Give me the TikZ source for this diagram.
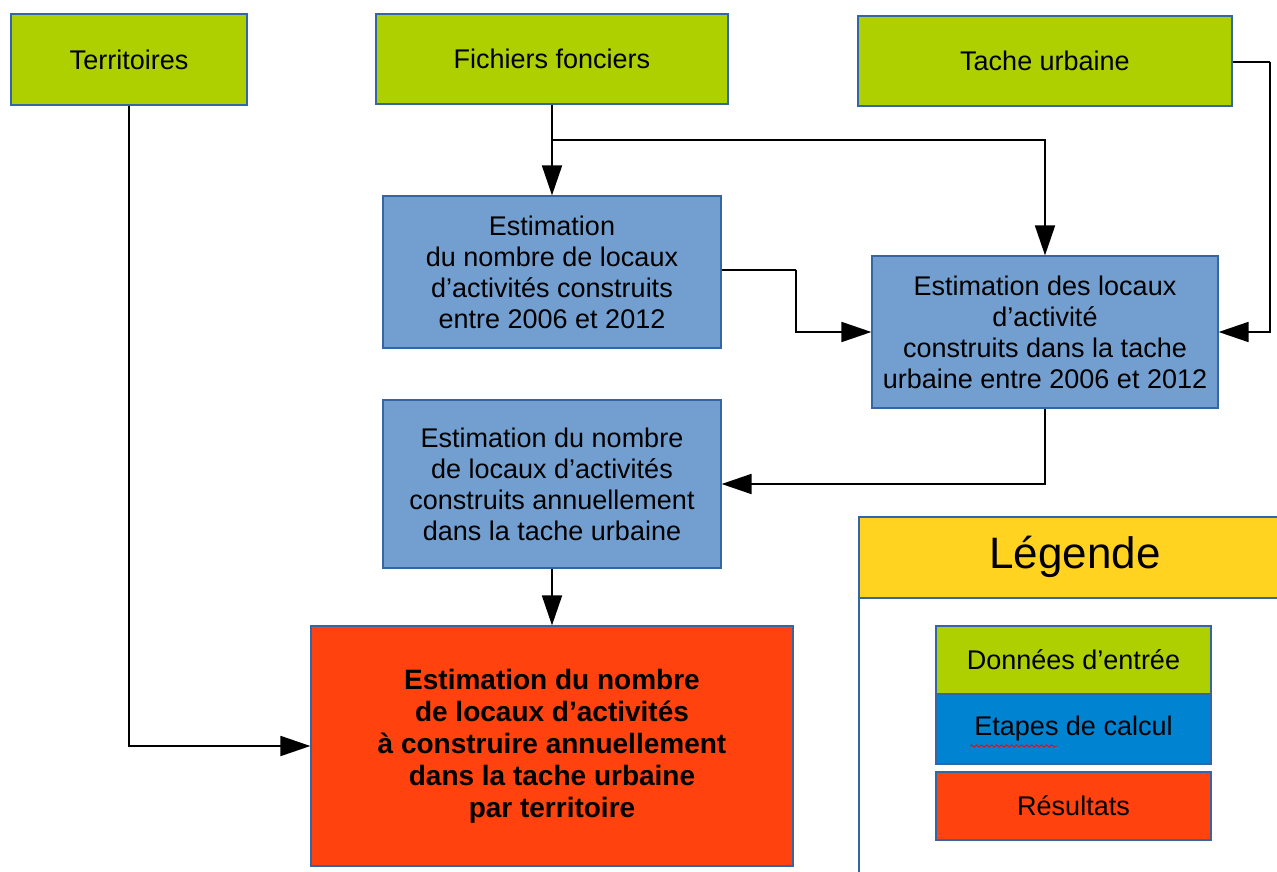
\documentclass[tikz,border=0pt]{standalone}
\usepackage{fontspec}
\setmainfont{Liberation Sans}
\usetikzlibrary{arrows.meta,decorations.pathmorphing}
\definecolor{ingreen}{RGB}{174,207,0}
\definecolor{stepblue}{RGB}{114,159,207}
\definecolor{resred}{RGB}{255,66,14}
\definecolor{legyellow}{RGB}{255,211,32}
\definecolor{legblue}{RGB}{0,132,209}
\definecolor{bordercol}{RGB}{52,101,164}
\begin{document}
\begin{tikzpicture}[x=1pt,y=-1pt,
  box/.style={draw=bordercol, line width=1.2pt, inner sep=0pt, align=center,
    font=\fontsize{27}{31}\selectfont},
  inbox/.style={box, fill=ingreen},
  stepbox/.style={box, fill=stepblue},
  resbox/.style={box, fill=resred, font=\fontsize{28}{32}\selectfont\bfseries},
  arr/.style={line width=1.8pt, -{Triangle[length=30pt,width=20pt]}},
  ln/.style={line width=1.8pt}]
\useasboundingbox (0,0) rectangle (1277,872);
\clip (0,0) rectangle (1277,872);
\fill[white] (0,0) rectangle (1277,872);
% input boxes
\node[inbox, minimum width=236pt, minimum height=91pt] (terr) at (129,59.5) {Territoires};
\node[inbox, minimum width=352pt, minimum height=90pt] (ff) at (552,59) {Fichiers fonciers};
\node[inbox, minimum width=374pt, minimum height=90pt] (tu) at (1045,61) {Tache urbaine};
% steps
\node[stepbox, minimum width=338pt, minimum height=152pt] (b1) at (552,272)
  {Estimation\\du nombre de locaux\\d’activités construits\\entre 2006 et 2012};
\node[stepbox, minimum width=346pt, minimum height=152pt] (b2) at (1045,332)
  {Estimation des locaux\\d’activité\\construits dans la tache\\urbaine entre 2006 et 2012};
\node[stepbox, minimum width=338pt, minimum height=168pt] (b3) at (552,484)
  {Estimation du nombre\\de locaux d’activités\\construits annuellement\\dans la tache urbaine};
% result
\node[resbox, minimum width=482pt, minimum height=240pt] (res) at (552,746)
  {Estimation du nombre\\de locaux d’activités\\à construire annuellement\\dans la tache urbaine\\par territoire};
% connectors
\draw[arr] (terr.south) |- (res.west);
\draw[arr] (ff.south) -- (b1.north);
\coordinate (j1) at (552,140);
\draw[arr] (j1) -| (b2.north);
\coordinate (tr) at (1270,62);
\draw[ln] (tu.east |- tr) -- (tr);
\draw[arr] (tr) |- (b2.east);
\coordinate (k1) at (796,270);
\draw[ln] (b1.east |- k1) -- (k1);
\draw[arr] (k1) |- (b2.west);
\draw[arr] (b2.south) |- (b3.east);
\draw[arr] (b3.south) -- (res.north);
% legend
\node[draw=bordercol, line width=1.2pt, fill=white, minimum width=441pt, minimum height=383pt, inner sep=0pt] (leg) at (1079.5,708.5) {};
\node[draw=bordercol, line width=1.2pt, fill=legyellow, minimum width=441pt, minimum height=81pt, inner sep=0pt] (legh) at (1079.5,557.5) {};
\node[font=\fontsize{44}{50}\selectfont] (legt) at (1075,557) {Légende};
\node[box, fill=ingreen, minimum width=275pt, minimum height=68pt] (l1) at (1073.5,660) {Données d’entrée};
\node[box, fill=legblue, minimum width=275pt, minimum height=70pt] (l2) at (1073.5,729) {Etapes de calcul};
\node[box, fill=resred, minimum width=275pt, minimum height=68pt] (l3) at (1073.5,806) {Résultats};
\draw[red, line width=0.8pt, decorate, decoration={snake, amplitude=1.2pt, segment length=5pt}] (970,746) -- (1057,746);
\end{tikzpicture}
\end{document}
